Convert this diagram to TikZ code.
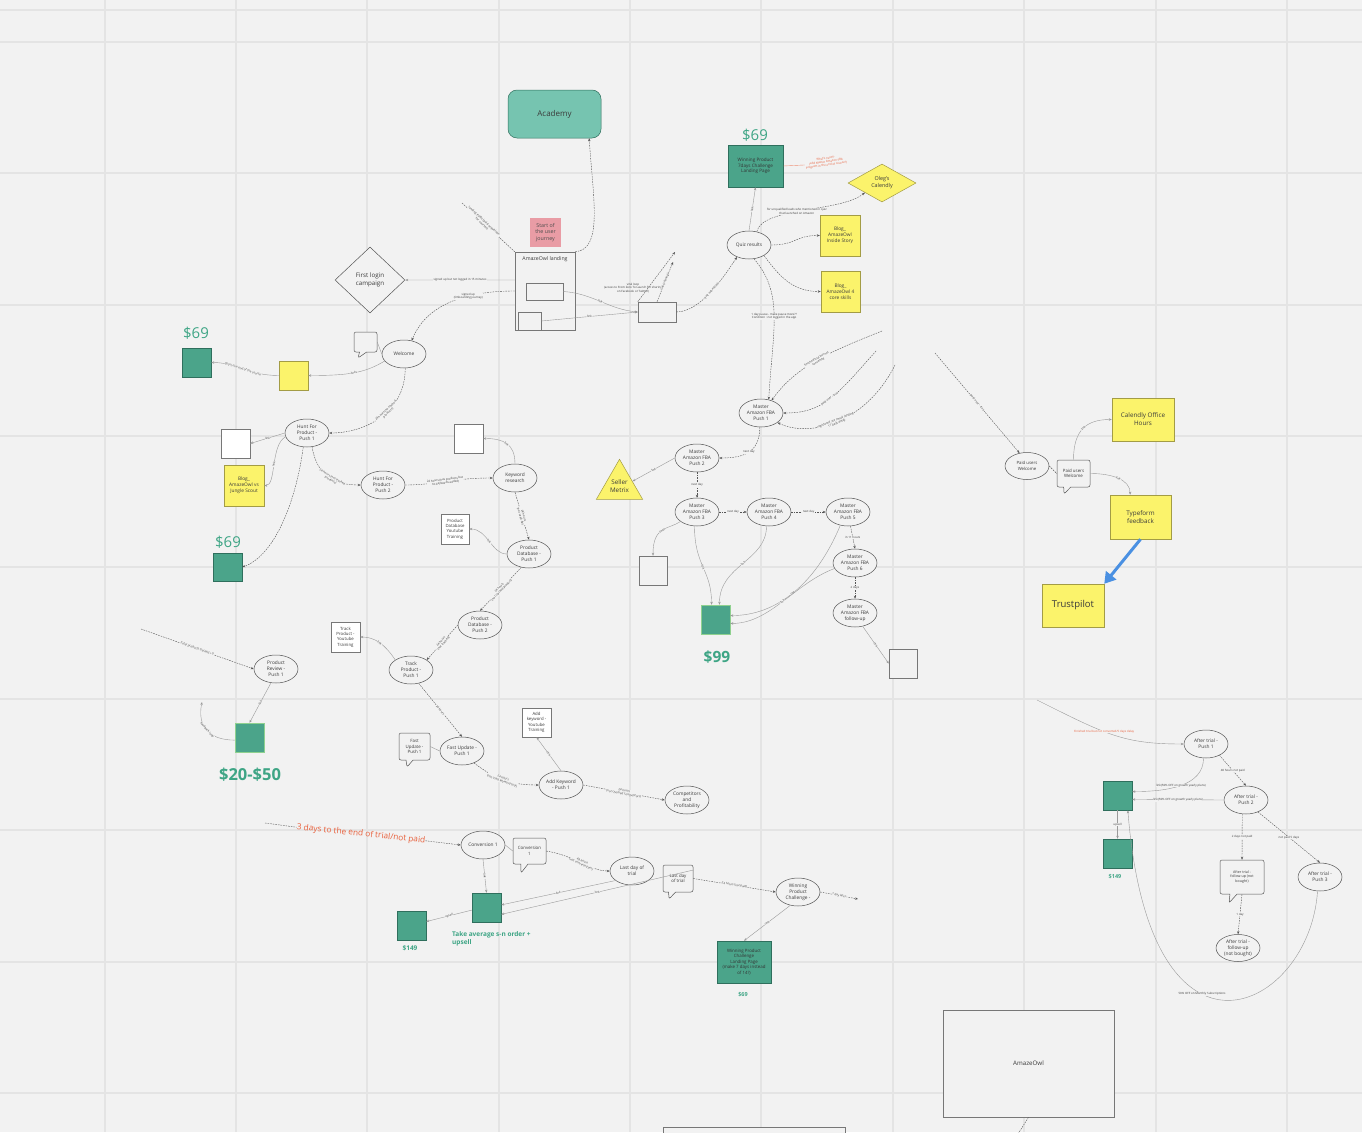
\documentclass[tikz,border=0pt]{standalone}
\usepackage{fontspec}
\setmainfont{Open Sans}
\usetikzlibrary{shapes,arrows.meta}
\definecolor{bgc}{HTML}{F2F2F2}
\definecolor{gridc}{HTML}{E4E4E4}
\definecolor{txtc}{HTML}{3A3A3A}
\definecolor{linec}{HTML}{555555}
\definecolor{lnkc}{HTML}{9A9A9A}
\definecolor{tealc}{HTML}{4BA48A}
\definecolor{tealdk}{HTML}{2F6F5D}
\definecolor{tealtxt}{HTML}{3EA585}
\definecolor{acadc}{HTML}{76C4B0}
\definecolor{yellc}{HTML}{FBF36B}
\definecolor{yelldk}{HTML}{A39C45}
\definecolor{pinkc}{HTML}{E99CA5}
\definecolor{redc}{HTML}{E8603C}
\definecolor{bluec}{HTML}{4A90E2}
\definecolor{lgreen}{HTML}{8FD18F}

\begin{document}
\begin{tikzpicture}[x=1pt,y=-1pt]
	\tikzstyle{every node}=[text=txtc]
	\tikzstyle{ell}=[ellipse, draw=linec, line width=0.5pt, fill=bgc, minimum width=44, minimum height=28, inner sep=0pt, align=center, font=\fontsize{4.8}{5.9}\selectfont]
	\tikzstyle{plainbox}=[rectangle, draw=linec!80, line width=0.5pt, fill=bgc, inner sep=0pt, align=center]
	\tikzstyle{whitebox}=[plainbox, fill=white, minimum width=29, minimum height=29, font=\fontsize{4.6}{5.6}\selectfont]
	\tikzstyle{tealbox}=[rectangle, fill=tealc, draw=tealdk, line width=0.5pt, minimum width=29, minimum height=29, inner sep=0pt, align=center, text=black!80, font=\fontsize{4.6}{5.6}\selectfont]
	\tikzstyle{yellbox}=[rectangle, fill=yellc, draw=yelldk, line width=0.5pt, inner sep=0pt, align=center, font=\fontsize{4.8}{5.9}\selectfont]
	\tikzstyle{yelldia}=[diamond, fill=yellc, draw=yelldk, line width=0.5pt, inner sep=0pt, align=center, font=\fontsize{5.4}{7}\selectfont]
	\tikzstyle{bubble}=[rectangle callout, draw=linec, fill=bgc, line width=0.5pt, rounded corners=2pt, inner sep=0pt, align=center, font=\fontsize{4.4}{5.5}\selectfont]
	\tikzstyle{price}=[text=tealtxt, inner sep=0pt, font=\fontsize{15}{15}\selectfont]
	\tikzstyle{bprice}=[text=tealtxt, inner sep=0pt, font=\fontsize{6.5}{8}\selectfont\bfseries, align=left]
	\tikzstyle{conn}=[draw=linec, line width=0.4pt, dash pattern=on 1.6pt off 1pt, -{Stealth[length=3pt,width=2.4pt]}]
	\tikzstyle{lnk}=[draw=lnkc, line width=0.4pt, -{Stealth[length=3pt,width=2.4pt]}]
	\tikzstyle{lbl}=[font=\fontsize{2.9}{3.4}\selectfont, text=txtc, inner sep=0.4pt, fill=bgc, align=center]
	\tikzstyle{slbl}=[lbl, sloped]

	\useasboundingbox (0,0) rectangle (1362,1132);
	\fill[bgc] (0,0) rectangle (1362,1132);
	\foreach \gx in {104.5,236,367,498.5,630,761,892.5,1024,1155.5,1287}
		\draw[gridc, line width=2pt] (\gx,0) -- (\gx,1132);
	\foreach \gy in {10,42,173,305,436,567,699,830,962,1093}
		\draw[gridc, line width=2pt] (0,\gy) -- (1362,\gy);

	% landing and quiz
	\node[rectangle, rounded corners=9pt, fill=acadc, draw=tealdk, line width=0.5pt, minimum width=93, minimum height=48, font=\fontsize{8}{9}\selectfont] (academy) at (554.5,114) {Academy};
	\node[rectangle, fill=pinkc, minimum width=31, minimum height=29, inner sep=0pt, align=center, text=black!70, font=\fontsize{5.3}{6.6}\selectfont] (start) at (545.5,232.5) {Start of\\the user\\journey};
	\node[plainbox, minimum width=60, minimum height=78] (landing) at (545,291) {};
	\node[font=\fontsize{5.2}{6}\selectfont, inner sep=0pt] (landtxt) at (545,259) {AmazeOwl landing};
	\node[plainbox, minimum width=37, minimum height=17] (lrect1) at (544.5,291.5) {};
	\node[plainbox, minimum width=23, minimum height=18] (lrect2) at (529.5,321) {};
	\node[diamond, draw=linec, fill=bgc, line width=0.5pt, minimum width=70, minimum height=66, inner sep=0pt, align=center, font=\fontsize{6.2}{7.6}\selectfont] (firstlogin) at (370,280) {First login\\campaign};
	\node[plainbox, minimum width=38, minimum height=20] (rbox) at (657,312) {};
	\node[lbl, fill=none] (viralnote) at (633,288) {viral loop\\(access to From Zero To Launch for sharing\\on Facebook or Twitter)};
	\node[ell] (quiz) at (749,245) {Quiz results};
	\node[tealbox, minimum width=55, minimum height=42] (wp7) at (755.5,166) {Winning Product\\7days Challenge\\Landing Page};
	\node[price] (p69a) at (755,135) {\$69};
	\node[lbl, fill=none, text=redc, rotate=8] (nextnote) at (826,162) {What's next??\\(add Master Amazon FBA\\Program in the end of course?)};
	\node[yelldia, minimum width=68, minimum height=38] (oleg) at (882,183) {Oleg's\\Calendly};
	\node[yellbox, minimum width=40, minimum height=41] (blog1) at (840,235.5) {Blog\_\\AmazeOwl\\Inside Story};
	\node[yellbox, minimum width=39, minimum height=41] (blog2) at (840.5,291.5) {Blog\_\\AmazeOwl 4\\core skills};

	% master amazon fba
	\node[ell] (mfba1) at (761,413) {Master\\Amazon FBA\\Push 1};
	\node[ell] (mfba2) at (697,458) {Master\\Amazon FBA\\Push 2};
	\node[ell] (mfba3) at (697,512) {Master\\Amazon FBA\\Push 3};
	\node[ell] (mfba4) at (769,512) {Master\\Amazon FBA\\Push 4};
	\node[ell] (mfba5) at (848,512) {Master\\Amazon FBA\\Push 5};
	\node[ell] (mfba6) at (855,563) {Master\\Amazon FBA\\Push 6};
	\node[ell] (mfbaf) at (855,613) {Master\\Amazon FBA\\follow-up};
	\node[regular polygon, regular polygon sides=3, minimum size=50, inner sep=0pt, fill=yellc, draw=yelldk, line width=0.5pt, align=center, font=\fontsize{6.3}{7.6}\selectfont] (seller) at (619.5,486) {Seller\\Metrix};
	\node[plainbox, minimum width=28, minimum height=29] (wbox3) at (653,570.5) {};
	\node[tealbox, draw=lgreen] (teal99) at (715.5,619.5) {};
	\node[price, font=\fontsize{15.5}{15.5}\selectfont\bfseries] (p99) at (717,657) {\$99};
	\node[plainbox, minimum width=28, minimum height=29] (wboxf) at (903,663.5) {};

	% onboarding pushes
	\node[ell] (welcome) at (404,354) {Welcome};
	\node[bubble, minimum width=23, minimum height=20, callout absolute pointer={(358,358)}] (bubble1) at (365.5,342) {};
	\node[yellbox, minimum width=29, minimum height=29] (ybox1) at (293.5,375.5) {};
	\node[tealbox] (teal69a) at (196.5,362.5) {};
	\node[price] (p69b) at (196,333) {\$69};
	\node[ell] (hfp1) at (307,433) {Hunt For\\Product -\\Push 1};
	\node[whitebox] (wbox1) at (235.5,443.5) {};
	\node[yellbox, minimum width=40, minimum height=41] (blogjs) at (244,485.5) {Blog\_\\AmazeOwl vs\\Jungle Scout};
	\node[tealbox, minimum height=28] (teal69b) at (227.5,567) {};
	\node[price] (p69c) at (228,542) {\$69};
	\node[ell] (hfp2) at (383,485) {Hunt For\\Product -\\Push 2};
	\node[ell] (kw) at (515,478) {Keyword\\research};
	\node[whitebox] (wbox2) at (468.5,438.5) {};
	\node[ell] (pdb1) at (529,554) {Product\\Database -\\Push 1};
	\node[whitebox, minimum width=28, minimum height=30, font=\fontsize{4.3}{5.3}\selectfont] (pdbyt) at (455,529) {Product\\Database\\Youtube\\Training};
	\node[ell] (pdb2) at (480,625) {Product\\Database -\\Push 2};
	\node[ell] (track) at (411,670) {Track\\Product -\\Push 1};
	\node[whitebox, minimum height=30, font=\fontsize{4.3}{5.3}\selectfont] (trackyt) at (345.5,637) {Track\\Product -\\Youtube\\Training};
	\node[ell] (fast) at (462,751) {Fast Update -\\Push 1};
	\node[bubble, minimum width=31, minimum height=27, callout absolute pointer={(407,767)}] (fastb) at (414.5,746.5) {Fast\\Update -\\Push 1};
	\node[ell] (addkw) at (561,785) {Add Keyword\\- Push 1};
	\node[whitebox, font=\fontsize{4.3}{5.3}\selectfont] (addkwyt) at (536.5,722.5) {Add\\keyword -\\Youtube\\Training};
	\node[ell] (comp) at (687,800) {Competitors\\and\\Profitability};
	\node[ell] (review) at (276,669) {Product\\Review -\\Push 1};
	\node[tealbox, draw=lgreen] (teal2050) at (249.5,737.5) {};
	\node[price, font=\fontsize{16.5}{16.5}\selectfont\bfseries] (p2050) at (250,775) {\$20-\$50};
	\coordinate (fbend) at (202,702);
	\coordinate (totalstart) at (141,629);
	\coordinate (trafs) at (462,203);
	\coordinate (vir1) at (675,252);
	\coordinate (vir2) at (673,262);
	\coordinate (fin1) at (882,331);
	\coordinate (fin2) at (876,351);
	\coordinate (fin3) at (895,365);

	% paid users
	\coordinate (paidstart) at (935,353);
	\node[ell, minimum height=27, font=\fontsize{4.3}{5.4}\selectfont] (paidw) at (1027,466) {Paid users\\Welcome};
	\node[bubble, minimum width=33, minimum height=27, callout absolute pointer={(1064,494)}] (paidb) at (1073.5,473.5) {Paid users\\Welcome};
	\node[yellbox, minimum width=62, minimum height=43, font=\fontsize{6.3}{7.8}\selectfont] (calendly) at (1143,419.5) {Calendly Office\\Hours};
	\node[yellbox, minimum width=61, minimum height=44, font=\fontsize{6.3}{7.8}\selectfont] (typeform) at (1140.5,517) {Typeform\\feedback};
	\node[yellbox, minimum width=62, minimum height=43, font=\fontsize{9.5}{10}\selectfont] (trust) at (1073,605.5) {Trustpilot};

	% after trial
	\coordinate (ftstart) at (1037,700);
	\node[ell] (at1) at (1206,744) {After trial -\\Push 1};
	\node[ell] (at2) at (1246,800) {After trial -\\Push 2};
	\node[tealbox] (teal149r) at (1117.5,795.5) {};
	\node[tealbox] (teal149r2) at (1117.5,853.5) {};
	\node[bprice, font=\fontsize{5.5}{6}\selectfont\bfseries] (p149r) at (1115,877) {\$149};
	\node[bubble, minimum width=44, minimum height=34, font=\fontsize{3.6}{4.6}\selectfont, callout absolute pointer={(1229,903)}] (atfb) at (1242,877) {After trial -\\follow-up (not\\bought)};
	\node[ell] (at3) at (1320,877) {After trial -\\Push 3};
	\node[ell, minimum height=27] (atf) at (1238,948) {After trial -\\follow-up\\(not bought)};

	% trial end
	\node[text=redc, inner sep=0pt, rotate=-6, font=\fontsize{8.3}{9}\selectfont] (trialnote) at (361,834) {3 days to the end of trial/not paid};
	\coordinate (d3s) at (265,823);
	\node[ell] (conv) at (483,845) {Conversion 1};
	\node[bubble, minimum width=33, minimum height=26, callout absolute pointer={(521,873)}] (convb) at (529.5,851) {Conversion\\1};
	\node[tealbox] (teal149) at (486.5,907.5) {};
	\node[tealbox] (teal149b) at (411.5,925.5) {};
	\node[bprice] (p149) at (410,948) {\$149};
	\node[bprice, anchor=north west] (avgnote) at (452,931) {Take average s-n order +\\upsell};
	\node[ell] (last) at (632,871) {Last day of\\trial};
	\node[bubble, minimum width=30, minimum height=27, callout absolute pointer={(669,899)}] (lastb) at (678,878.5) {Last day\\of trial};
	\node[ell] (wpc) at (798,892) {Winning\\Product\\Challenge -};
	\coordinate (wpcend) at (858,899);
	\node[tealbox, minimum width=54, minimum height=42, font=\fontsize{4.4}{5.5}\selectfont] (wpclp) at (744,962) {Winning Product\\Challenge\\Landing Page\\(make 7 days instead\\of 14?)};
	\node[bprice, font=\fontsize{5.5}{6}\selectfont\bfseries] (p69d) at (743,995) {\$69};
	\node[plainbox, minimum width=171, minimum height=107, font=\fontsize{6.2}{7}\selectfont] (amazeowl) at (1028.5,1063.5) {AmazeOwl};
	\coordinate (aoend) at (1018,1134);
	\node[plainbox, minimum width=182, minimum height=14] (cutbox) at (754,1134) {};

	% connectors: top
	\draw[conn, -] (trafs) -- node[slbl, pos=0.4]{landing traffic (paid acquisition\\for courses)} (landing.north west);
	\draw[conn] (landing.north east) .. controls +(28,-2) and +(4,60) .. (academy.-35);
	\draw[lnk] (landing.160) -- node[lbl]{signed up but not logged in 15 minutes} (firstlogin.east);
	\draw[conn] (landing.west) .. controls +(-60,0) and +(12,-30) .. node[lbl, pos=0.3]{signed up\\(Onboarding journey)} (welcome.60);
	\draw[lnk] (lrect1.east) .. controls +(30,2) and +(-30,-3) .. node[slbl]{link} (rbox.west);
	\draw[lnk] (lrect2.east) -- node[slbl]{link} (rbox.west);
	\draw[conn] (rbox.north west) -- (vir1);
	\draw[conn] (rbox.north) -- node[slbl]{link (sharing)} (vir2);
	\draw[conn] (rbox.east) .. controls +(25,0) and +(-12,18) .. node[slbl]{quiz submitted} (quiz.225);
	\draw[lnk] (quiz.north) -- node[slbl]{link} (wp7.south);
	\draw[draw=redc!70, line width=0.4pt] (wp7.east) -- (nextnote.west);
	\draw[conn] (quiz.60) .. controls +(6,-25) and +(-25,20) .. node[lbl, pos=0.45]{for unqualified leads who mentioned in quiz\\that launched on Amazon} (oleg.south west);
	\draw[conn] (quiz.east) .. controls +(25,0) and +(-25,0) .. (blog1.west);
	\draw[conn] (quiz.-35) .. controls +(18,25) and +(-25,0) .. (blog2.west);
	\draw[conn] (quiz.-70) .. controls +(30,35) and +(4,-70) .. node[lbl, pos=0.5]{1 day pause - make pause more??\\Condition : not logged in the app} (mfba1.60);
	\draw[conn] (fin1) .. controls +(-50,20) and +(25,-35) .. node[slbl]{finished trial but not\\converted} (mfba1.50);
	\draw[conn] (fin2) .. controls +(-40,45) and +(40,0) .. node[slbl]{paid user - true} (mfba1.east);
	\draw[conn] (fin3) .. controls +(-30,60) and +(30,15) .. node[slbl]{registered\_via\_email\_landing\\11 days delay} (mfba1.-30);

	% connectors: master amazon fba
	\draw[conn] (mfba1.-95) .. controls +(0,25) and +(25,0) .. node[lbl]{next day} (mfba2.east);
	\draw[lnk] (mfba2.west) -- node[slbl]{link} (seller.20);
	\draw[conn] (mfba2.south) -- node[lbl]{next day} (mfba3.north);
	\draw[conn] (mfba3.east) -- node[lbl]{next day} (mfba4.west);
	\draw[conn] (mfba4.east) -- node[lbl]{next day} (mfba5.west);
	\draw[conn] (mfba5.-80) -- node[lbl]{in 11 hours} (mfba6.north);
	\draw[conn] (mfba6.south) -- node[lbl]{2 days} (mfbaf.north);
	\draw[lnk] (mfbaf.-60) -- node[slbl]{link} (wboxf.west);
	\draw[lnk] (mfba3.-150) .. controls +(-12,8) and +(0,-30) .. node[slbl]{links} (wbox3.north);
	\draw[lnk] (mfba3.-100) .. controls +(0,40) and +(0,-35) .. node[slbl]{link} (teal99.105);
	\draw[lnk] (mfba4.-100) .. controls +(0,35) and +(0,-40) .. node[slbl]{link} (teal99.75);
	\draw[lnk] (mfba5.-120) .. controls +(-25,60) and +(45,0) .. node[slbl]{link} (teal99.15);
	\draw[lnk] (mfba6.-165) .. controls +(-40,15) and +(40,0) .. node[slbl]{link} (teal99.-15);

	% connectors: onboarding
	\draw[lnk, -] (bubble1.east) -- (welcome.west);
	\draw[lnk] (welcome.-160) .. controls +(-20,12) and +(40,0) .. node[slbl]{links} (ybox1.east);
	\draw[lnk] (ybox1.west) .. controls +(-30,0) and +(25,0) .. node[slbl]{Did in the end of the course} (teal69a.east);
	\draw[conn] (welcome.-85) .. controls +(0,45) and +(35,0) .. node[slbl, pos=0.42]{24 hours (no tracked\\products)} (hfp1.east);
	\draw[lnk] (hfp1.west) -- node[lbl]{link} (wbox1.east);
	\draw[lnk] (hfp1.-170) .. controls +(-15,8) and +(12,0) .. node[slbl]{link} (blogjs.east);
	\draw[conn] (hfp1.-105) .. controls +(-8,60) and +(30,-10) .. (teal69b.east);
	\draw[conn] (hfp1.-70) .. controls +(5,30) and +(-25,0) .. node[slbl, pos=0.55]{24 hours (not tracked\\products)} (hfp2.west);
	\draw[conn] (hfp2.east) .. controls +(30,0) and +(-40,0) .. node[slbl]{24 hours (has products but\\no keywords added)} (kw.west);
	\draw[lnk] (kw.north) .. controls +(0,-20) and +(20,0) .. node[slbl]{link} (wbox2.east);
	\draw[conn] (kw.south) -- node[slbl]{24 hours\\(not used db)} (pdb1.north);
	\draw[lnk] (pdb1.west) .. controls +(-15,0) and +(18,0) .. node[slbl]{link} (pdbyt.east);
	\draw[conn] (pdb1.-120) -- node[slbl]{24 hours\\(not tracked product)} (pdb2.north);
	\draw[conn] (pdb2.west) -- node[slbl]{24 hours\\(not tracked)} (track.north east);
	\draw[lnk] (track.north west) .. controls +(-10,-15) and +(15,0) .. node[slbl]{link} (trackyt.east);
	\draw[conn] (track.-60) -- node[slbl]{24 hours} (fast.north);
	\draw[lnk, -] (fastb.east) -- (fast.west);
	\draw[conn] (fast.-45) .. controls +(20,15) and +(-30,0) .. node[slbl]{24 hours\\(not used keyword tool)} (addkw.west);
	\draw[lnk] (addkw.north) -- node[slbl]{link} (addkwyt.south);
	\draw[conn] (addkw.east) -- node[slbl]{24 hours\\(not checked competitors)} (comp.west);
	\draw[conn] (totalstart) -- node[slbl]{Total products tracked > 0} (review.west);
	\draw[lnk] (review.-110) -- node[slbl]{link} (teal2050.north);
	\draw[lnk] (teal2050.-170) .. controls +(-25,0) and +(-5,25) .. node[slbl]{feedback loop} (fbend);

	% connectors: paid users
	\draw[conn] (paidstart) -- node[slbl]{paid user - true} (paidw.120);
	\draw[conn, -] (paidw.east) -- (paidb.west);
	\draw[lnk] (paidb.north) .. controls +(0,-30) and +(-25,0) .. node[slbl]{link} (calendly.west);
	\draw[lnk] (paidb.east) .. controls +(22,0) and +(0,-15) .. node[slbl]{link} (typeform.115);
	\draw[bluec, line width=3pt, -{Triangle[length=11pt,width=13pt]}] (typeform.south) -- (trust.north east);

	% connectors: after trial
	\draw[lnk] (ftstart) .. controls +(70,35) and +(-60,0) .. node[lbl, text=redc, pos=0.42]{Finished trial but not converted/5 days delay} (at1.west);
	\draw[conn] (at1.-40) -- node[lbl]{48 hours not paid} (at2.north);
	\draw[lnk] (at1.-100) .. controls +(0,28) and +(35,0) .. node[lbl]{link(50\% OFF on growth yearly plans)} (teal149r.15);
	\draw[lnk] (at2.west) -- node[lbl]{link(50\% OFF on growth yearly plans)} (teal149r.-15);
	\draw[lnk] (teal149r.south) -- node[lbl]{upsell} (teal149r2.north);
	\draw[conn] (at2.-105) -- node[lbl]{2 days not paid} (atfb.north);
	\draw[conn] (at2.-45) -- node[lbl]{not paid 5 days} (at3.north);
	\draw[conn] (atfb.south) -- node[lbl]{1 day} (atf.north);
	\draw[lnk] (at3.-100) .. controls (1310,1010) and (1150,1090) .. node[lbl, pos=0.6]{50\% OFF on Monthly Subscriptions} (teal149r.-55);

	% connectors: trial end
	\draw[conn, -] (d3s) -- (trialnote.west);
	\draw[conn] (trialnote.east) -- (conv.west);
	\draw[lnk] (conv.south) -- node[slbl]{link} (teal149.north);
	\draw[lnk, -] (conv.east) -- (convb.west);
	\draw[lnk] (teal149.-170) -- node[slbl]{upsell} (teal149b.15);
	\draw[conn] (convb.east) .. controls +(30,5) and +(-20,0) .. node[slbl]{48 hours\\(not converted yet)} (last.west);
	\draw[lnk] (last.-150) -- node[slbl]{link} (teal149.10);
	\draw[lnk] (lastb.-165) -- node[slbl]{link} (teal149.-25);
	\draw[conn] (lastb.east) -- node[slbl]{24 hours (not paid)} (wpc.west);
	\draw[conn] (wpc.east) -- node[slbl]{1 day later} (wpcend);
	\draw[lnk] (wpc.-120) -- node[slbl]{link} (wpclp.north);
	\draw[conn, -] (amazeowl.south) -- (aoend);
\end{tikzpicture}
\end{document}
